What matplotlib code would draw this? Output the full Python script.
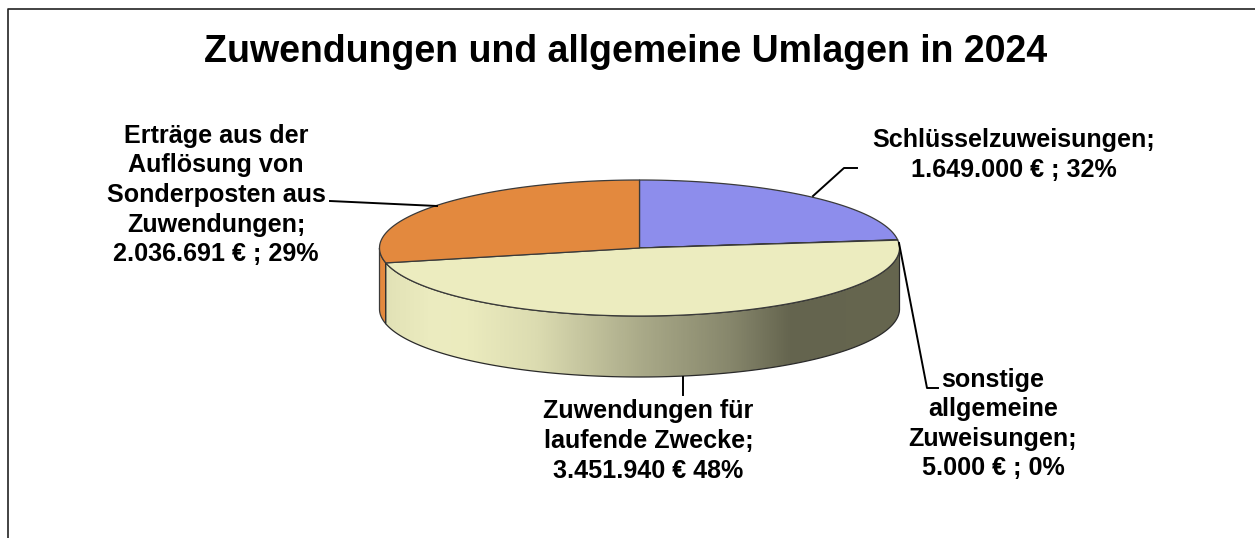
import matplotlib
matplotlib.use('Agg')
import matplotlib.pyplot as plt
import numpy as np
from matplotlib.colors import LinearSegmentedColormap
from matplotlib.patches import Polygon

plt.rcParams['font.family'] = ['Liberation Sans', 'DejaVu Sans']

title = 'Zuwendungen und allgemeine Umlagen in 2024'

# pie data, clockwise from 12 o'clock
names = ['Schlüsselzuweisungen', 'sonstige allgemeine Zuweisungen',
         'Zuwendungen für laufende Zwecke',
         'Erträge aus der Auflösung von Sonderposten aus Zuwendungen']
values = [1649000, 5000, 3451940, 2036691]
colors = ['#8d8dec', '#c0504d', '#ececbf', '#e3893e']

labels = ['Schlüsselzuweisungen;\n1.649.000 € ; 32%',
          'sonstige\nallgemeine\nZuweisungen;\n5.000 € ; 0%',
          'Zuwendungen für\nlaufende Zwecke;\n3.451.940 € 48%',
          'Erträge aus der\nAuflösung von\nSonderposten aus\nZuwendungen;\n2.036.691 € ; 29%']
label_pos = [(1014, 155), (993, 424), (648.5, 441), (216, 195)]

# ellipse of the pie in pixels
cx, cy, rx, ry = 639.5, 248, 260, 68
depth = 61

side_stops = [(0.0, '#e2e2b6'), (0.09, '#ececc0'), (0.16, '#ebebbe'), (0.29, '#dcdcb1'),
              (0.5, '#a9a988'), (0.67, '#87876c'), (0.79, '#64644e'), (1.0, '#66664f')]


def rim(a0, a1, dy=0):
    t = np.radians(np.linspace(a0, a1, 300))
    return np.column_stack([cx + rx * np.sin(t), cy + dy - ry * np.cos(t)])


fig = plt.figure(figsize=(12.55, 5.38), dpi=100)
ax = fig.add_axes([0, 0, 1, 1])
ax.set_xlim(0, 1255)
ax.set_ylim(538, 0)
ax.axis('off')

# frame, only top and left are visible
ax.plot([1255, 7.5, 7.5], [9, 9, 538], color='#222222', lw=1.2)

ends = np.cumsum(values) / np.sum(values) * 360
starts = np.concatenate([[0], ends[:-1]])

# outer side: orange part left of the big slice, then the shaded part
pts = np.vstack([rim(270, starts[3]), rim(starts[3], 270, depth)])
ax.add_patch(Polygon(pts, closed=True, fc=colors[3], ec='#3a3a3a', lw=0.9, zorder=2))

pts = np.vstack([rim(90, starts[3]), rim(starts[3], 90, depth)])
side = Polygon(pts, closed=True, fc='none', ec='none', zorder=3)
ax.add_patch(side)
cmap = LinearSegmentedColormap.from_list('side', side_stops)
x0 = cx + rx * np.sin(np.radians(starts[3]))
im = ax.imshow(np.linspace(0, 1, 512).reshape(1, -1), cmap=cmap, aspect='auto',
               extent=[x0, cx + rx, cy + ry + depth, cy], zorder=3)
im.set_clip_path(side)
ax.set_xlim(0, 1255)
ax.set_ylim(538, 0)
ax.add_patch(Polygon(pts, closed=True, fc='none', ec='#2a2a2a', lw=0.9, zorder=4))

# top face
for a0, a1, c in zip(starts, ends, colors):
    pts = np.vstack([[cx, cy], rim(a0, a1)])
    ax.add_patch(Polygon(pts, closed=True, fc=c, ec='#3a3a3a', lw=0.9, zorder=5))

# leader lines
leaders = [([813, 844, 857], [196, 168, 168]),
           ([899, 927, 938], [243, 388, 388]),
           ([683, 683], [377, 395]),
           ([437, 330], [206, 201])]
for xs, ys in leaders:
    ax.plot(xs, ys, color='black', lw=1.4, zorder=6)

ax.text(626, 52, title, fontsize=27, fontweight='bold', ha='center', va='center')
for txt, (x, y) in zip(labels, label_pos):
    ax.text(x, y, txt, fontsize=18.1, fontweight='bold', ha='center', va='center', linespacing=1.29)

fig.savefig('out.png', dpi=100)
